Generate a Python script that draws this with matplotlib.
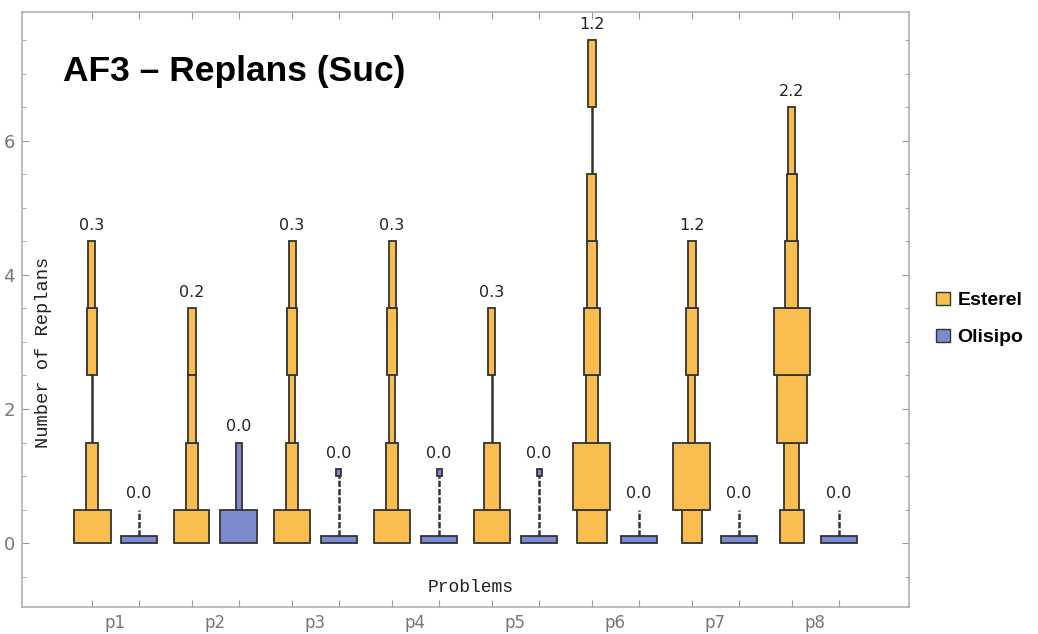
import matplotlib.pyplot as plt
from matplotlib.patches import Patch

problems = ["p1", "p2", "p3", "p4", "p5", "p6", "p7", "p8"]
series = ["Esterel", "Olisipo"]

# bins per problem: (low, high, width); width 0 = empty bin (line only)
esterel_bins = [
    [(0, 0.5, 0.37), (0.5, 1.5, 0.12), (1.5, 2.5, 0), (2.5, 3.5, 0.10), (3.5, 4.5, 0.07)],
    [(0, 0.5, 0.35), (0.5, 1.5, 0.12), (1.5, 2.5, 0.08), (2.5, 3.5, 0.075)],
    [(0, 0.5, 0.36), (0.5, 1.5, 0.12), (1.5, 2.5, 0.06), (2.5, 3.5, 0.10), (3.5, 4.5, 0.07)],
    [(0, 0.5, 0.36), (0.5, 1.5, 0.12), (1.5, 2.5, 0.06), (2.5, 3.5, 0.10), (3.5, 4.5, 0.07)],
    [(0, 0.5, 0.36), (0.5, 1.5, 0.16), (1.5, 2.5, 0), (2.5, 3.5, 0.07)],
    [(0, 0.5, 0.30), (0.5, 1.5, 0.37), (1.5, 2.5, 0.12), (2.5, 3.5, 0.165),
     (3.5, 4.5, 0.10), (4.5, 5.5, 0.09), (5.5, 6.5, 0), (6.5, 7.5, 0.08)],
    [(0, 0.5, 0.20), (0.5, 1.5, 0.37), (1.5, 2.5, 0.07), (2.5, 3.5, 0.12), (3.5, 4.5, 0.075)],
    [(0, 0.5, 0.24), (0.5, 1.5, 0.15), (1.5, 2.5, 0.30), (2.5, 3.5, 0.36),
     (3.5, 4.5, 0.13), (4.5, 5.5, 0.105), (5.5, 6.5, 0.07)],
]
olisipo_bins = [
    [(0, 0.1, 0.36), (0.1, 0.5, 0)],
    [(0, 0.5, 0.37), (0.5, 1.5, 0.07)],
    [(0, 0.1, 0.36), (0.1, 1.0, 0), (1.0, 1.1, 0.05)],
    [(0, 0.1, 0.36), (0.1, 1.0, 0), (1.0, 1.1, 0.05)],
    [(0, 0.1, 0.36), (0.1, 1.0, 0), (1.0, 1.1, 0.05)],
    [(0, 0.1, 0.36), (0.1, 0.5, 0)],
    [(0, 0.1, 0.36), (0.1, 0.5, 0)],
    [(0, 0.1, 0.36), (0.1, 0.5, 0)],
]
esterel_means = [0.3, 0.2, 0.3, 0.3, 0.3, 1.2, 1.2, 2.2]
olisipo_means = [0.0, 0.0, 0.0, 0.0, 0.0, 0.0, 0.0, 0.0]

colors = ["#FABD4F", "#7C8BD0"]
edge = "#333333"

fig = plt.figure(figsize=(10.38, 6.34), dpi=100)
ax = fig.add_axes([22 / 1038, 1 - 607 / 634, 887 / 1038, 595 / 634])

offset = 0.235
all_bins = [esterel_bins, olisipo_bins]
all_means = [esterel_means, olisipo_means]
for s, (bins_list, means) in enumerate(zip(all_bins, all_means)):
    sign = -1 if s == 0 else 1
    for i, bins in enumerate(bins_list):
        x = i + 1 + sign * offset
        for lo, hi, w in bins:
            if w == 0:
                ls = "-" if s == 0 else (0, (2.5, 0.8))
                ax.plot([x, x], [lo, hi], color=edge, lw=1.8, ls=ls, zorder=2)
            else:
                ax.bar(x, hi - lo, bottom=lo, width=w, color=colors[s],
                       edgecolor=edge, linewidth=1.3, zorder=3)
        top = max(b[1] for b in bins)
        ax.annotate(f"{means[i]:.1f}", (x, top), xytext=(0, 6),
                    textcoords="offset points", ha="center", va="bottom",
                    fontsize=11.5, color="#222222")

ax.set_xlim(0.065, 8.935)
ax.set_ylim(-0.955, 7.925)

# ticks
bar_pos = [i + 1 + d for i in range(len(problems)) for d in (-offset, offset)]
ax.set_xticks(bar_pos)
ax.set_xticklabels([])
ax.set_xticks([i + 1 for i in range(len(problems))], minor=True)
ax.set_xticklabels(problems, minor=True)
ax.set_yticks([0, 2, 4, 6])
ax.set_yticks([y / 2 for y in range(-1, 16)], minor=True)
ax.tick_params(axis="x", which="major", direction="in", length=5, color="#999999",
               top=True, bottom=True)
ax.tick_params(axis="x", which="minor", length=0, labelsize=12, labelcolor="#777777", pad=5)
ax.tick_params(axis="y", which="major", direction="in", length=5, color="#999999",
               left=True, right=True, labelsize=13, labelcolor="#777777", pad=5)
ax.tick_params(axis="y", which="minor", direction="in", length=3, color="#999999",
               left=True, right=True)
for sp in ax.spines.values():
    sp.set_color("#aaaaaa")
    sp.set_linewidth(1.1)

# labels drawn inside the frame
ax.text(0.28, 2.85, "Number of Replans", rotation=90, ha="center", va="center",
        family="Liberation Mono", fontsize=13.5, color="#222222")
ax.text(4.55, -0.67, "Problems", ha="center", va="center",
        family="Liberation Mono", fontsize=13, color="#222222")
ax.text(0.475, 7.03, "AF3 \u2013 Replans (Suc)", ha="left", va="center",
        family="Liberation Sans", fontweight="bold", fontsize=25.5, color="black")

handles = [Patch(facecolor=c, edgecolor=edge, linewidth=1.0) for c in colors]
fig.legend(handles, series, loc="center left", bbox_to_anchor=(0.885, 0.497),
           frameon=False, prop={"family": "Liberation Sans", "weight": "bold", "size": 14},
           handlelength=0.7, handleheight=0.7, handletextpad=0.4, labelspacing=1.0)

fig.savefig("out.png", dpi=100)
